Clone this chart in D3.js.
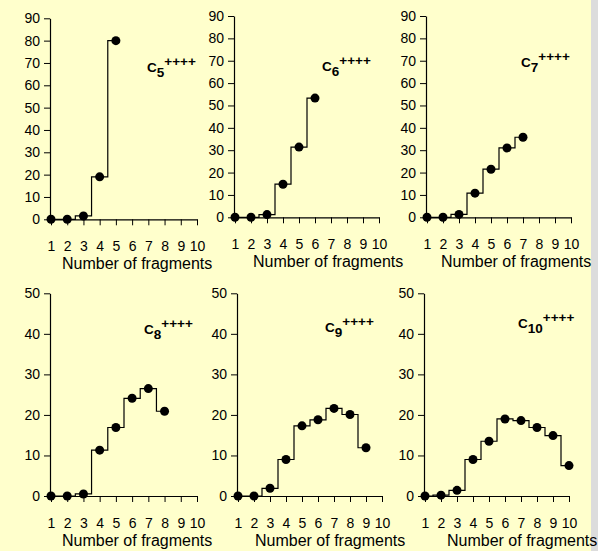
<!DOCTYPE html>
<html>
<head>
<meta charset="utf-8">
<script src="https://cdn.jsdelivr.net/npm/d3@7"></script>
<style>
  body { margin: 0; background: #dcdcdc; }
  svg { display: block; }
  .axis path, .axis line { stroke: #000; }
</style>
</head>
<body>
<svg id="chart"></svg>
<script>
// fragment counts on the x axis
const fragments = [1, 2, 3, 4, 5, 6, 7, 8, 9, 10];

// percentage per number of fragments
const c5  = [0, 0, 1.5, 19, 80];
const c6  = [0, 0, 1.2, 14.8, 31.4, 53.3];
const c7  = [0, 0, 1.3, 10.8, 21.5, 31, 35.8];
const c8  = [0, 0, 0.5, 11.3, 16.9, 24.1, 26.5, 20.9];
const c9  = [0, 0, 1.9, 9.0, 17.3, 18.8, 21.6, 20.1, 11.9];
const c10 = [0, 0.2, 1.4, 9.0, 13.5, 19.0, 18.6, 16.9, 14.9, 7.5];

const subscripts = ["5", "6", "7", "8", "9", "10"];
const ticksTop = [0, 10, 20, 30, 40, 50, 60, 70, 80, 90];
const ticksBottom = [0, 10, 20, 30, 40, 50];

const width = 598, height = 551;
const font = "Arial, 'Liberation Sans', sans-serif";

const svg = d3.select("#chart")
    .attr("width", width)
    .attr("height", height);

// yellow page, grey strip on the right
svg.append("rect").attr("width", 591).attr("height", height).attr("fill", "#ffffcc");

// layout of each panel (pixel positions)
const panels = [
    {vals: c5,  sub: subscripts[0], yt: ticksTop,    x1: 51,  x10: 197, y0: 219.3, yTop: 18.3,  tx: 62,  lx: 147, ly: 72},
    {vals: c6,  sub: subscripts[1], yt: ticksTop,    x1: 235, x10: 379, y0: 217.3, yTop: 16,    tx: 253, lx: 322, ly: 71},
    {vals: c7,  sub: subscripts[2], yt: ticksTop,    x1: 427, x10: 571, y0: 217.3, yTop: 16,    tx: 441, lx: 521, ly: 67},
    {vals: c8,  sub: subscripts[3], yt: ticksBottom, x1: 51,  x10: 197, y0: 496,   yTop: 293.3, tx: 62,  lx: 144, ly: 334},
    {vals: c9,  sub: subscripts[4], yt: ticksBottom, x1: 238, x10: 382, y0: 496,   yTop: 293.3, tx: 255, lx: 325, ly: 332},
    {vals: c10, sub: subscripts[5], yt: ticksBottom, x1: 425, x10: 569, y0: 496,   yTop: 293.3, tx: 447, lx: 518, ly: 328}
];

panels.forEach(function(p) {
    let x = d3.scaleLinear().domain([1, 10]).range([p.x1, p.x10]);
    let y = d3.scaleLinear().domain([0, d3.max(p.yt)]).range([p.y0, p.yTop]);

    let g = svg.append("g");

    // x axis
    g.append("g")
        .attr("class", "axis")
        .attr("transform", "translate(0," + p.y0 + ")")
        .call(d3.axisBottom(x).tickValues(fragments).tickFormat(d3.format("d"))
            .tickSize(6).tickSizeOuter(0).tickPadding(16));

    // y axis
    g.append("g")
        .attr("class", "axis")
        .attr("transform", "translate(" + (p.x1 - 1) + ",0)")
        .call(d3.axisLeft(y).tickValues(p.yt).tickSize(6).tickSizeOuter(0).tickPadding(4));

    g.selectAll(".axis .domain").attr("stroke-width", 1.2);
    g.selectAll(".axis text")
        .attr("font-family", font)
        .attr("font-size", "14px")
        .attr("fill", "#000");

    let pts = p.vals.map(function(v, i) { return [fragments[i], v]; });

    // step outline
    g.append("path")
        .datum(pts)
        .attr("fill", "none")
        .attr("stroke", "#000")
        .attr("stroke-width", 1.2)
        .attr("d", d3.line()
            .x(function(d) { return x(d[0]); })
            .y(function(d) { return y(d[1]); })
            .curve(d3.curveStep));

    // dots
    g.selectAll("circle")
        .data(pts)
        .enter()
        .append("circle")
        .attr("cx", function(d) { return x(d[0]); })
        .attr("cy", function(d) { return y(d[1]); })
        .attr("r", 4.5)
        .attr("fill", "#000");

    // axis title
    g.append("text")
        .attr("x", p.tx)
        .attr("y", p.y0 + 49.5)
        .attr("font-family", font)
        .attr("font-size", "16px")
        .text("Number of fragments");

    // cluster label C_n^++++
    let lab = g.append("text")
        .attr("x", p.lx)
        .attr("y", p.ly)
        .attr("font-family", font)
        .attr("font-size", "13.5px")
        .attr("font-weight", "bold");
    lab.append("tspan").text("C");
    lab.append("tspan").attr("dy", 4.6).text(p.sub);
    lab.append("tspan").attr("dy", -10.5).text("++++");
});
</script>
</body>
</html>
